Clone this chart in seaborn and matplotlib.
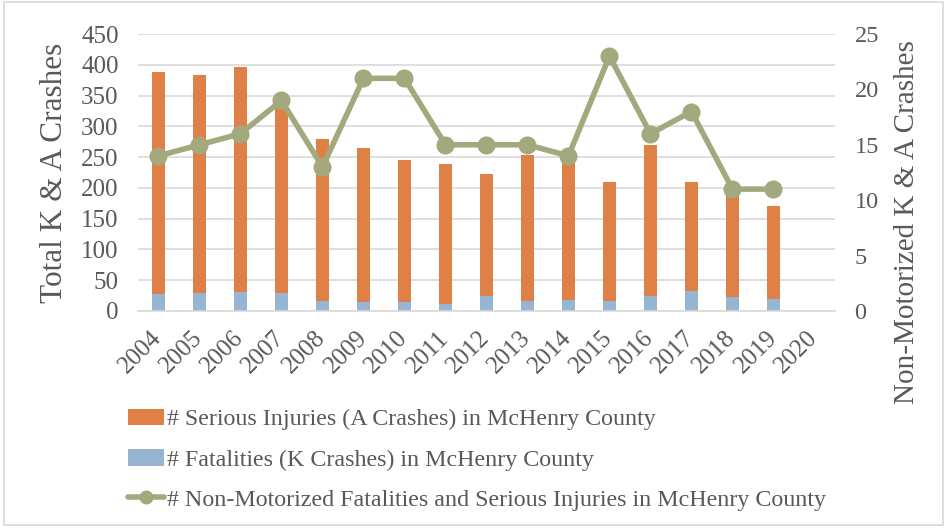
import numpy as np
import pandas as pd
import matplotlib
matplotlib.use("Agg")
import matplotlib.pyplot as plt
import seaborn as sns
from matplotlib.patches import Patch, Rectangle
from matplotlib.lines import Line2D

years = [str(y) for y in range(2004, 2021)]
serious_injuries = [362, 355, 365, 323, 262, 250, 232, 226, 198, 237, 222, 193, 245, 177, 168, 152, np.nan]
fatalities = [27, 29, 31, 29, 17, 14, 14, 12, 24, 16, 18, 17, 25, 32, 23, 19, np.nan]
non_motorized = [14, 15, 16, 19, 13, 21, 21, 15, 15, 15, 14, 23, 16, 18, 11, 11, np.nan]

lab_inj = "# Serious Injuries (A Crashes) in McHenry County"
lab_fat = "# Fatalities (K Crashes) in McHenry County"
lab_nm = "# Non-Motorized Fatalities and Serious Injuries in McHenry County"

orange = "#DF8147"
blue = "#95B5D3"
green = "#A3A97D"
grey_text = "#595959"
grid_c = "#D9D9D9"

df = pd.DataFrame({"year": years, "inj": serious_injuries, "fat": fatalities, "nm": non_motorized})
df["total"] = df["inj"] + df["fat"]

sns.set_theme(style="white")
plt.rcParams["font.family"] = ["Liberation Serif", "DejaVu Serif"]
plt.rcParams["text.color"] = grey_text

fig = plt.figure(figsize=(9.47, 5.28), dpi=100)
ax = fig.add_axes([0.1457, 0.411, 0.736, 0.5246])

sns.barplot(data=df, x="year", y="total", order=years, color=orange, width=0.31,
            saturation=1, ax=ax, edgecolor="none", linewidth=0)
sns.barplot(data=df, x="year", y="fat", order=years, color=blue, width=0.31,
            saturation=1, ax=ax, edgecolor="none", linewidth=0)

ax.set_ylim(0, 450)
ax.set_yticks(np.arange(0, 451, 50))
ax.set_xlim(-0.5, len(years) - 0.5)
ax.grid(axis="y", color=grid_c, linewidth=1.2)
ax.set_axisbelow(True)
for s in ["top", "right", "left"]:
    ax.spines[s].set_visible(False)
ax.spines["bottom"].set_color(grid_c)
ax.spines["bottom"].set_linewidth(1.2)
ax.tick_params(axis="y", length=0, labelsize=18, colors=grey_text, pad=14)
ax.tick_params(axis="x", length=0, labelsize=18, colors=grey_text, pad=17)
ax.set_xlabel("")
ax.set_ylabel("Total K & A Crashes", fontsize=22.5, color=grey_text)
ax.yaxis.set_label_coords(-0.099, 0.5)
plt.setp(ax.get_xticklabels(), rotation=45, ha="right", va="center", rotation_mode="anchor")

ax2 = ax.twinx()
sns.pointplot(data=df, x="year", y="nm", order=years, color=green, errorbar=None,
              markers="o", linestyles="-", markersize=10, linewidth=4, ax=ax2)
ax2.set_ylim(0, 25)
ax2.set_yticks(np.arange(0, 26, 5))
ax2.set_xlim(-0.5, len(years) - 0.5)
for s in ["top", "right", "left", "bottom"]:
    ax2.spines[s].set_visible(False)
ax2.tick_params(axis="y", length=0, labelsize=17.5, colors=grey_text, pad=14)
ax2.tick_params(axis="x", length=0)
ax2.set_ylabel("Non-Motorized K & A Crashes", fontsize=21, color=grey_text)
ax2.yaxis.set_label_coords(1.085, 0.32)
ax2.set_xlabel("")
ax2.grid(False)

handles = [Patch(facecolor=orange, edgecolor="none"),
           Patch(facecolor=blue, edgecolor="none"),
           Line2D([0], [0], color=green, linewidth=4, marker="o", markersize=9)]
fig.legend(handles, [lab_inj, lab_fat, lab_nm], loc="upper left",
           bbox_to_anchor=(0.135, 0.226), frameon=False, fontsize=17.3,
           handlelength=1.5, handletextpad=0.15, labelspacing=0.76,
           labelcolor=grey_text, borderaxespad=0, borderpad=0)

fig.patches.append(Rectangle((0.004, 0.006), 0.992, 0.99, transform=fig.transFigure,
                             fill=False, edgecolor=grid_c, linewidth=1.2))

fig.savefig("out.png", dpi=100)
